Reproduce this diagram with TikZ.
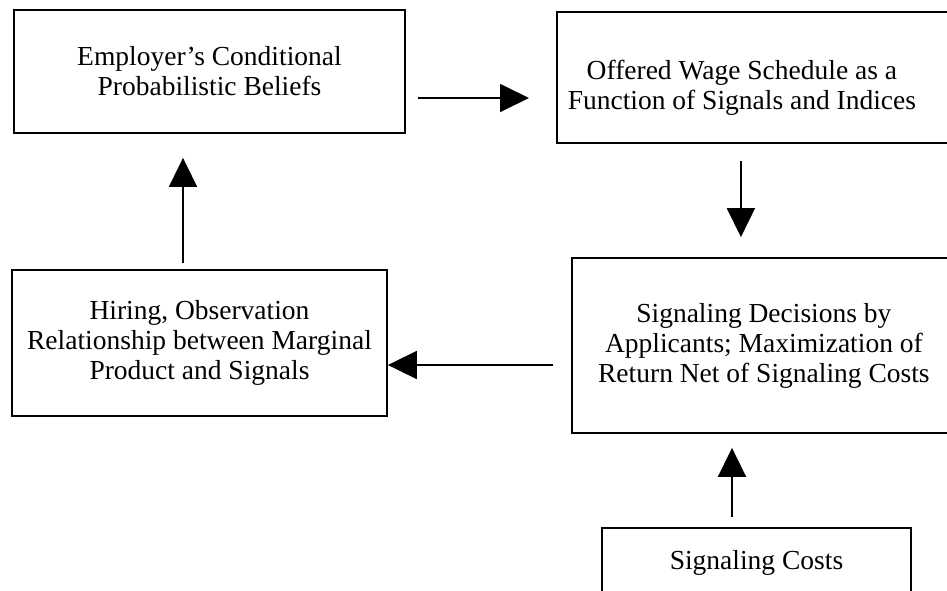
\documentclass[tikz,border=0pt]{standalone}
\usepackage{fontspec}
\setmainfont{Liberation Serif}
\usepackage{tikz}
\usetikzlibrary{arrows.meta}

\begin{document}
\begin{tikzpicture}[x=1pt,y=-1pt]
			\tikzstyle{every node}=[font={\fontsize{27.5}{30}\selectfont}]
			\tikzstyle{box}=[draw, line width=1.8pt, rectangle, align=center, inner sep=0pt]
			\tikzstyle{flow}=[line width=1.8pt, -{Triangle[length=29pt,width=28pt]}]
			\clip (0,0) rectangle (947,590);
			
			%Kaesten
			\node[box, minimum width=391, minimum height=123] (emp) at (209.5,71.5) {Employer's Conditional\\Probabilistic Beliefs};
			\node[box, anchor=west] (offer) at (556,77.5) {\parbox[c][131pt][c]{370pt}{\centering\vspace*{21pt}Offered Wage Schedule as a\\Function of Signals and Indices}\hspace{26pt}};
			\node[box, minimum width=375, minimum height=146] (hire) at (199.5,343) {Hiring, Observation\\Relationship between Marginal\\Product and Signals};
			\node[box, anchor=west] (sig) at (571,345.5) {\parbox[c][175pt][c]{384pt}{\centering Signaling Decisions by\\Applicants; Maximization of\\Return Net of Signaling Costs}\hspace{6pt}};
			\node[box, minimum width=309, minimum height=70] (cost) at (756.5,563) {Signaling Costs};
			
			%Pfeile
			\draw[flow, shorten <=12pt, shorten >=27pt] ([yshift=-26.5pt]emp.east) -- ([yshift=-26.5pt]emp.east -| offer.west);
			\draw[flow, shorten <=17pt, shorten >=20pt] ([xshift=-14pt]offer.south) -- ([xshift=-14pt]offer.south |- sig.north);
			\draw[flow, shorten <=18pt] ([yshift=-19.5pt]sig.west) -- ([yshift=-19.5pt]sig.west -| hire.east);
			\draw[flow, shorten <=6pt, shorten >=24pt] ([xshift=-16.5pt]hire.north) -- ([xshift=-16.5pt]hire.north |- emp.south);
			\draw[flow, shorten <=10pt, shorten >=14pt] ([xshift=-24.5pt]cost.north) -- ([xshift=-24.5pt]cost.north |- sig.south);
		\end{tikzpicture}
\end{document}
